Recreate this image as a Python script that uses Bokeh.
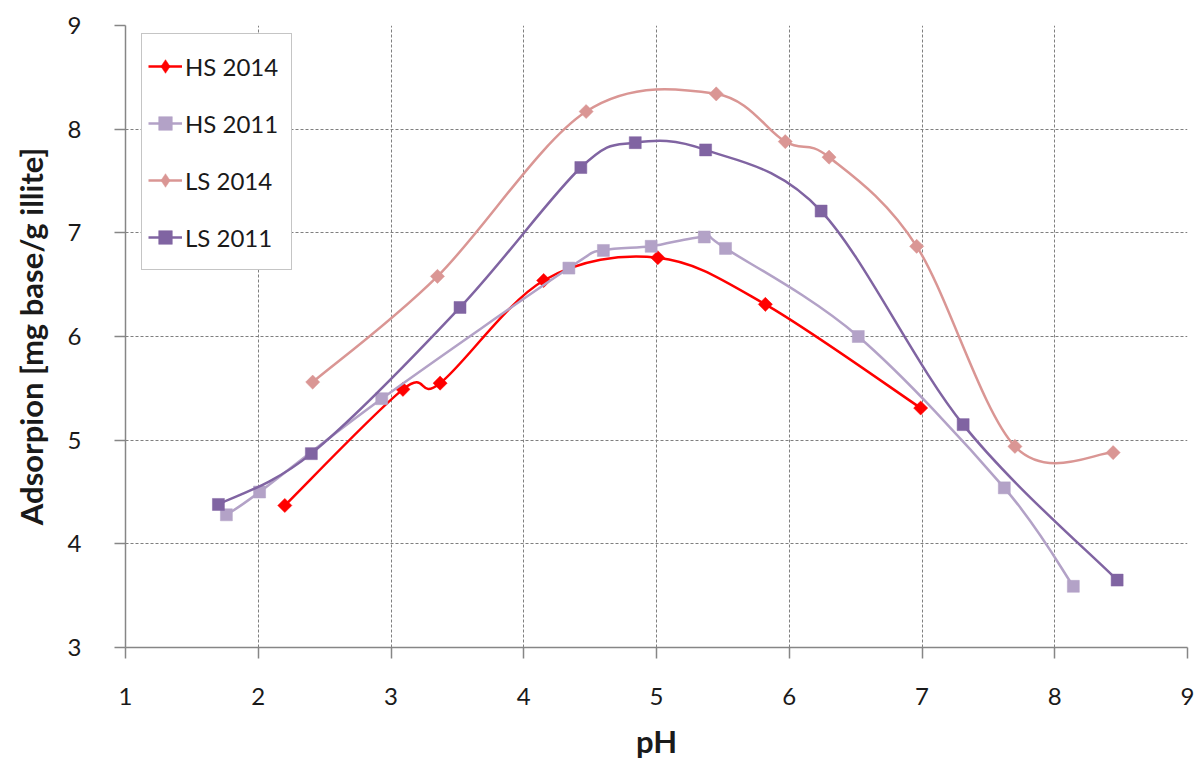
import numpy as np
from bokeh.plotting import figure
from bokeh.models import ColumnDataSource, Legend, LegendItem, Range1d, FixedTicker
from bokeh.embed import file_html
from bokeh.resources import INLINE

# ---- data ----
hs2014_ph = [2.20, 3.09, 3.37, 4.15, 5.01, 5.82, 6.99]
hs2014_ads = [4.37, 5.49, 5.55, 6.54, 6.76, 6.31, 5.31]

hs2011_ph = [1.76, 2.01, 2.93, 4.34, 4.60, 4.96, 5.36, 5.52, 6.52, 7.62, 8.14]
hs2011_ads = [4.28, 4.50, 5.40, 6.66, 6.83, 6.87, 6.96, 6.85, 6.00, 4.54, 3.59]

ls2014_ph = [2.41, 3.35, 4.47, 5.45, 5.97, 6.30, 6.96, 7.70, 8.44]
ls2014_ads = [5.56, 6.58, 8.17, 8.34, 7.88, 7.73, 6.87, 4.94, 4.88]

ls2011_ph = [1.70, 2.40, 3.52, 4.43, 4.84, 5.37, 6.24, 7.31, 8.47]
ls2011_ads = [4.38, 4.87, 6.28, 7.63, 7.87, 7.80, 7.21, 5.15, 3.65]

x_ticks = [1, 2, 3, 4, 5, 6, 7, 8, 9]
y_ticks = [3, 4, 5, 6, 7, 8, 9]

series = [
    ("HS 2014", hs2014_ph, hs2014_ads, "#FF0000", "diamond"),
    ("HS 2011", hs2011_ph, hs2011_ads, "#B3A2C7", "square"),
    ("LS 2014", ls2014_ph, ls2014_ads, "#DA9694", "diamond"),
    ("LS 2011", ls2011_ph, ls2011_ads, "#8064A2", "square"),
]

FONT = "Lato"


def smooth_segments(xs, ys):
    """Bezier control points for a smoothed (Catmull-Rom style) line through the points."""
    x = np.asarray(xs, float)
    y = np.asarray(ys, float)
    n = len(x)
    xp = np.concatenate([[x[0]], x, [x[-1]]])
    yp = np.concatenate([[y[0]], y, [y[-1]]])
    i = np.arange(n - 1)
    return dict(
        x0=xp[i + 1], y0=yp[i + 1], x1=xp[i + 2], y1=yp[i + 2],
        cx0=xp[i + 1] + (xp[i + 2] - xp[i]) / 6.0,
        cy0=yp[i + 1] + (yp[i + 2] - yp[i]) / 6.0,
        cx1=xp[i + 2] - (xp[i + 3] - xp[i + 1]) / 6.0,
        cy1=yp[i + 2] - (yp[i + 3] - yp[i + 1]) / 6.0,
    )


p = figure(width=1198, height=762, output_backend="svg", toolbar_location=None,
           x_range=Range1d(1, 9), y_range=Range1d(3, 9),
           min_border_left=125, min_border_right=11, min_border_top=25, min_border_bottom=113)
p.outline_line_color = None
p.background_fill_color = "white"
p.border_fill_color = "white"

# grid
for g in (p.xgrid[0], p.ygrid[0]):
    g.grid_line_color = "#7f7f7f"
    g.grid_line_dash = "3 2"
    g.grid_line_width = 1

# axes
p.xaxis.ticker = FixedTicker(ticks=x_ticks)
p.yaxis.ticker = FixedTicker(ticks=y_ticks)
for ax in (p.xaxis[0], p.yaxis[0]):
    ax.axis_line_color = "#868686"
    ax.axis_line_width = 1.5
    ax.major_tick_line_color = "#868686"
    ax.major_tick_line_width = 1.5
    ax.major_tick_in = 0
    ax.major_tick_out = 11
    ax.minor_tick_line_color = None
    ax.major_label_text_font = FONT
    ax.major_label_text_font_size = "24px"
    ax.major_label_text_color = "#1a1a1a"
    ax.axis_label_text_font = FONT
    ax.axis_label_text_font_style = "bold"
    ax.axis_label_text_color = "#1a1a1a"
    ax.axis_label_text_font_size = "31px"

p.xaxis.axis_label = "pH"
p.xaxis.major_label_standoff = 29
p.xaxis.axis_label_standoff = 14

p.yaxis.axis_label = "Adsorpion [mg base/g illite]"
p.yaxis.major_label_standoff = 33
p.yaxis.axis_label_standoff = 15

items = []
for name, xs, ys, color, marker in series:
    seg = ColumnDataSource(smooth_segments(xs, ys))
    p.bezier(x0="x0", y0="y0", x1="x1", y1="y1", cx0="cx0", cy0="cy0", cx1="cx1", cy1="cy1",
             source=seg, line_color=color, line_width=2.5)
    pts = ColumnDataSource(dict(x=xs, y=ys))
    if marker == "diamond":
        p.scatter("x", "y", source=pts, marker="square", angle=np.pi / 4, size=10,
                  fill_color=color, line_color=color, line_width=0.5)
    else:
        p.scatter("x", "y", source=pts, marker="square", size=12,
                  fill_color=color, line_color=color, line_width=0.5)
    # legend-only renderers (no visible data)
    leg_line = p.line(x=[np.nan], y=[np.nan], line_color=color, line_width=2.5)
    leg_mark = p.scatter(x=[np.nan], y=[np.nan], marker=marker, fill_color=color,
                         line_color=color, line_width=0.5)
    items.append(LegendItem(label=name, renderers=[leg_line, leg_mark]))

legend = Legend(items=items, location=(16, 377), margin=0, padding=6, spacing=5,
                glyph_width=34, glyph_height=52, label_height=52, label_width=100,
                label_standoff=3,
                label_text_font=FONT, label_text_font_size="24px", label_text_color="#1a1a1a",
                border_line_color="#8c8c8c", border_line_width=1.5,
                background_fill_color="white", background_fill_alpha=1)
p.add_layout(legend, "center")

open("out.html", "w").write(file_html(p, INLINE))
